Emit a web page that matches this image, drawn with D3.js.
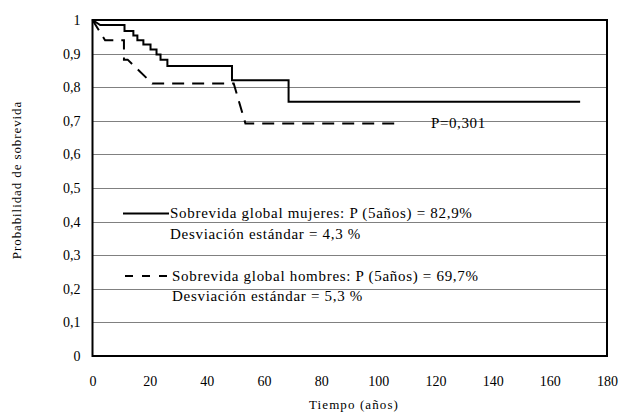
<!DOCTYPE html>
<html>
<head>
<meta charset="utf-8">
<script src="https://cdn.jsdelivr.net/npm/d3@7"></script>
<style>
  html, body { margin: 0; padding: 0; background: #fff; }
  svg { display: block; }
  text { font-family: "Liberation Serif", "Times New Roman", serif; fill: #000; }
</style>
</head>
<body>
<svg id="chart" width="620" height="415"></svg>
<script>
// ---- data ----
const xTicks = [0, 20, 40, 60, 80, 100, 120, 140, 160, 180];
const yTicks = [0, 0.1, 0.2, 0.3, 0.4, 0.5, 0.6, 0.7, 0.8, 0.9, 1];
const yTickLabels = ["0", "0,1", "0,2", "0,3", "0,4", "0,5", "0,6", "0,7", "0,8", "0,9", "1"];

// Women: vertices of the plotted line (time in years, survival probability)
const womenTime = [0, 2.7, 11.2, 11.2, 14.3, 14.3, 15.7, 15.7, 17.8, 17.8, 20.3, 20.3, 22.4, 22.4, 23.8, 23.8, 26.2, 26.2, 48.8, 48.8, 68.6, 68.6, 170.6];
const womenSurv = [1, 0.985, 0.985, 0.967, 0.967, 0.954, 0.954, 0.940, 0.940, 0.927, 0.927, 0.912, 0.912, 0.897, 0.897, 0.882, 0.882, 0.863, 0.863, 0.821, 0.821, 0.757, 0.757];

// Men: vertices of the plotted line
const menTime = [0, 4.4, 11.0, 11.0, 12.3, 20.9, 49.4, 53.5, 107.1];
const menSurv = [1, 0.940, 0.940, 0.882, 0.882, 0.811, 0.811, 0.692, 0.692];

const legendLabels = [
  ["Sobrevida global mujeres: P (5años) = 82,9%", "Desviación estándar = 4,3 %"],
  ["Sobrevida global hombres: P (5años) = 69,7%", "Desviación estándar = 5,3 %"]
];
const pValueLabel = "P=0,301";
const xTitle = "Tiempo (años)";
const yTitle = "Probabilidad de sobrevida";

// ---- drawing ----
const svg = d3.select("#chart");
const x = d3.scaleLinear().domain([0, 180]).range([92.5, 607]);
const y = d3.scaleLinear().domain([0, 1]).range([356, 20]);

// gridlines
svg.append("g").selectAll("line").data(yTicks.filter(d => d > 0 && d < 1)).join("line")
  .attr("x1", x(0)).attr("x2", x(180))
  .attr("y1", d => Math.round(y(d)) + 0.5).attr("y2", d => Math.round(y(d)) + 0.5)
  .attr("stroke", "#808080").attr("stroke-width", 1);

// y axis labels
const yAxis = d3.axisLeft(y).tickValues(yTicks)
  .tickFormat((d, i) => yTickLabels[i]).tickSize(0).tickPadding(12);
const gy = svg.append("g").attr("transform", `translate(${x(0)},0)`).call(yAxis);
gy.select(".domain").remove();
gy.selectAll("text").attr("font-size", 14).style("font-family", '"Liberation Serif", serif');

// x axis labels
const xAxis = d3.axisBottom(x).tickValues(xTicks).tickSize(0).tickPadding(20);
const gx = svg.append("g").attr("transform", `translate(0,${y(0)})`).call(xAxis);
gx.select(".domain").remove();
gx.selectAll("text").attr("font-size", 14).style("font-family", '"Liberation Serif", serif');

// frame
svg.append("rect")
  .attr("x", x(0)).attr("y", y(1))
  .attr("width", x(180) - x(0)).attr("height", y(0) - y(1))
  .attr("fill", "none").attr("stroke", "#000").attr("stroke-width", 2);

const line = d3.line().x(d => x(d[0])).y(d => y(d[1]));

svg.append("path")
  .datum(womenTime.map((t, i) => [t, womenSurv[i]]))
  .attr("d", line).attr("fill", "none").attr("stroke", "#000")
  .attr("stroke-width", 2);

svg.append("path")
  .datum(menTime.map((t, i) => [t, menSurv[i]]))
  .attr("d", line).attr("fill", "none").attr("stroke", "#000")
  .attr("stroke-width", 2).attr("stroke-dasharray", "12,8");

// P value label
svg.append("text").attr("x", 431).attr("y", 127.5)
  .attr("font-size", 15).attr("letter-spacing", 0.6).text(pValueLabel);

// legend
const legend = svg.append("g");
legend.append("line").attr("x1", 123).attr("x2", 169).attr("y1", 213.5).attr("y2", 213.5)
  .attr("stroke", "#000").attr("stroke-width", 2);
legend.append("line").attr("x1", 125).attr("x2", 169).attr("y1", 276).attr("y2", 276)
  .attr("stroke", "#000").attr("stroke-width", 2).attr("stroke-dasharray", "8,9");
const legendY = [[218, 239], [281, 301]];
legendLabels.forEach((pair, i) => {
  pair.forEach((s, j) => {
    legend.append("text").attr("x", i === 0 ? 170 : 172).attr("y", legendY[i][j])
      .attr("font-size", 15).attr("letter-spacing", 0.7).text(s);
  });
});

// axis titles
svg.append("text").attr("x", 354).attr("y", 409).attr("text-anchor", "middle")
  .attr("font-size", 13).attr("letter-spacing", 1.1).text(xTitle);
svg.append("text").attr("transform", "translate(21,180) rotate(-90)")
  .attr("text-anchor", "middle").attr("font-size", 13).attr("letter-spacing", 0.9).text(yTitle);
</script>
</body>
</html>
